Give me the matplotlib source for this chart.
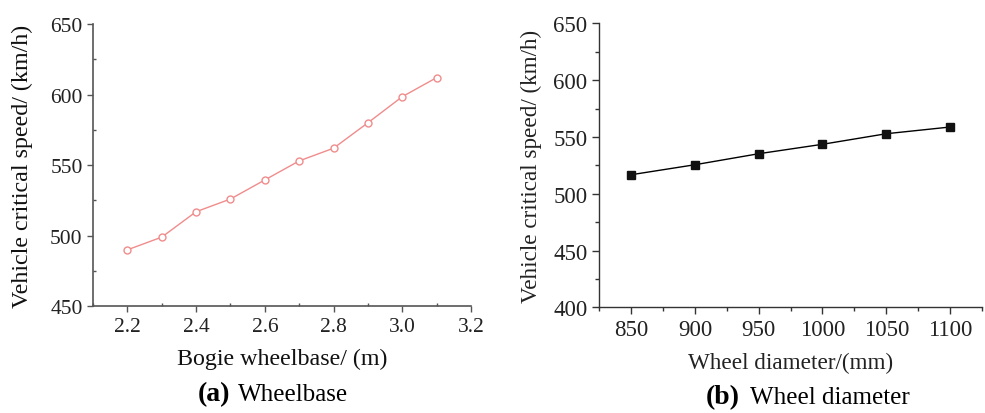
import matplotlib
matplotlib.use("Agg")
import matplotlib.pyplot as plt
from matplotlib.ticker import MultipleLocator

# Data
wheelbase = [2.2, 2.3, 2.4, 2.5, 2.6, 2.7, 2.8, 2.9, 3.0, 3.1]
speed_wheelbase = [490, 499, 517, 526, 539.5, 553, 562, 580, 598.5, 612]
diameter = [850, 900, 950, 1000, 1050, 1100]
speed_diameter = [516.7, 525.5, 535.2, 543.5, 552.8, 558.7]

left_xticks = [2.2, 2.4, 2.6, 2.8, 3.0, 3.2]
left_yticks = [450, 500, 550, 600, 650]
right_xticks = [850, 900, 950, 1000, 1050, 1100]
right_yticks = [400, 450, 500, 550, 600, 650]

plt.rcParams['font.family'] = ['Liberation Serif', 'DejaVu Serif']

fig = plt.figure(figsize=(9.85, 4.14), dpi=100)

# Left panel
ax1 = fig.add_axes([0.0944, 0.2577, 0.3838, 0.682])
ax1.plot(wheelbase, speed_wheelbase, color='#f08c8c', lw=1.0, marker='o',
         markersize=5, markerfacecolor='white', markeredgecolor='#f08c8c', markeredgewidth=1.0)
ax1.set_xlim(2.1, 3.2)
ax1.set_ylim(450, 650)
ax1.set_xticks(left_xticks)
ax1.set_xticklabels([f"{v:.1f}" for v in left_xticks])
ax1.set_yticks(left_yticks)
ax1.xaxis.set_minor_locator(MultipleLocator(0.1))
ax1.yaxis.set_minor_locator(MultipleLocator(25))
ax1.spines['top'].set_visible(False)
ax1.spines['right'].set_visible(False)
for s in ['left', 'bottom']:
    ax1.spines[s].set_color('#555555')
    ax1.spines[s].set_linewidth(1.2)
ax1.tick_params(which='major', direction='out', length=4, width=1.0, color='#555555',
                labelsize=15.5, labelcolor='#222222')
ax1.tick_params(which='minor', direction='in', length=2, width=1.0, color='#555555')
ax1.set_xlabel('Bogie wheelbase/ (m)', fontsize=17.3, color='#111111', labelpad=9)
ax1.set_ylabel('Vehicle critical speed/ (km/h)', fontsize=17.3, color='#111111', labelpad=12)

# Right panel
ax2 = fig.add_axes([0.6084, 0.2553, 0.3885, 0.686])
ax2.plot(diameter, speed_diameter, color='black', lw=1.0, marker='s',
         markersize=6, markerfacecolor='#111111', markeredgecolor='#111111')
ax2.set_xlim(825, 1125)
ax2.set_ylim(400, 650)
ax2.set_xticks(right_xticks)
ax2.set_yticks(right_yticks)
ax2.xaxis.set_minor_locator(MultipleLocator(25))
ax2.yaxis.set_minor_locator(MultipleLocator(25))
ax2.spines['top'].set_visible(False)
ax2.spines['right'].set_visible(False)
for s in ['left', 'bottom']:
    ax2.spines[s].set_color('#333333')
    ax2.spines[s].set_linewidth(1.0)
ax2.tick_params(which='major', direction='out', length=5, width=1.0, color='#333333',
                labelsize=16.5, labelcolor='#222222')
ax2.tick_params(which='minor', direction='out', length=3, width=1.0, color='#333333')
ax2.set_xlabel('Wheel diameter/(mm)', fontsize=16.7, color='#222222', labelpad=8.5)
ax2.set_ylabel('Vehicle critical speed/ (km/h)', fontsize=16.7, color='#222222', labelpad=8)

# Captions
fig.text(230 / 985, 1 - 395 / 414, '(a)', fontsize=20, fontweight='bold', ha='right', va='center')
fig.text(238 / 985, 1 - 395 / 414, 'Wheelbase', fontsize=18, ha='left', va='center')
fig.text(740 / 985, 1 - 398 / 414, '(b)', fontsize=20, fontweight='bold', ha='right', va='center')
fig.text(750 / 985, 1 - 398 / 414, 'Wheel diameter', fontsize=18, ha='left', va='center')

fig.savefig('out.png', dpi=100)
